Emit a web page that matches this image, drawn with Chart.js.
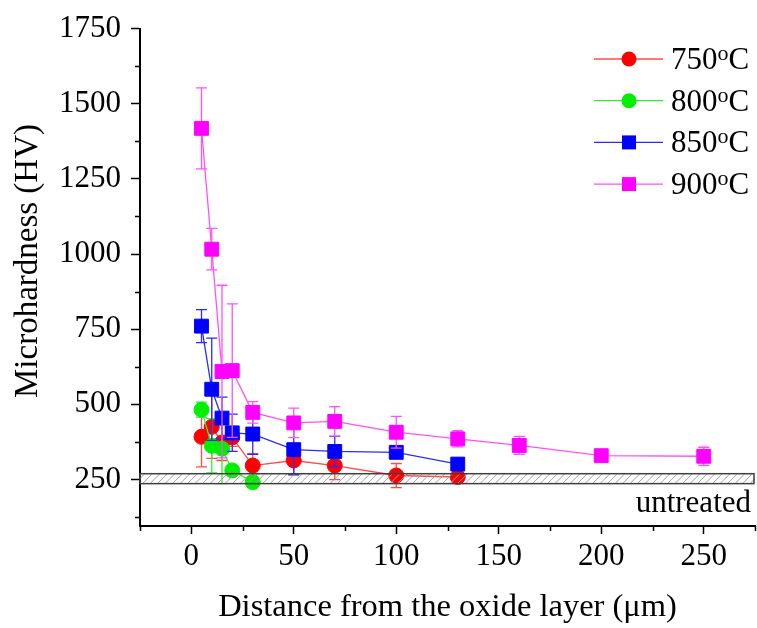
<!DOCTYPE html>
<html>
<head>
<meta charset="utf-8">
<script src="https://cdn.jsdelivr.net/npm/chart.js@4.4.0/dist/chart.umd.min.js"></script>
<style>
  html, body { margin: 0; padding: 0; background: #fff; }
  canvas { display: block; }
</style>
</head>
<body>
<canvas id="myChart" width="757" height="628"></canvas>
<script>
// temperatures (legend labels, shown as 750oC etc.)
var series = ["750", "800", "850", "900"];

// distance from the oxide layer (um) / microhardness (HV) / error (HV)
var x750 = [5, 10, 15, 20, 30, 50, 70, 100, 130];
var hv750 = [392, 425, 373, 390, 296, 313, 296, 263, 258];
var err750 = [100, 105, 60, 30, 40, 47, 47, 40, 15];

var x800 = [5, 10, 15, 20, 30];
var hv800 = [482, 362, 352, 280, 241];
var err800 = [25, 90, 116, 15, 15];

var x850 = [5, 10, 15, 20, 30, 50, 70, 100, 130];
var hv850 = [760, 550, 454, 405, 401, 349, 343, 340, 301];
var err850 = [55, 170, 70, 62, 68, 84, 50, 20, 20];

var x900 = [5, 10, 15, 20, 30, 50, 70, 100, 130, 160, 200, 250];
var hv900 = [1418, 1016, 609, 612, 473, 438, 443, 407, 385, 363, 329, 327];
var err900 = [135, 69, 287, 222, 36, 49, 49, 53, 27, 30, 0, 30];

// untreated hardness band (HV)
var untreatedRange = [236, 269];

// tick labels
var xTicks = [0, 50, 100, 150, 200, 250];
var xMinor = [-25, 25, 75, 125, 175, 225, 275];
var yTicks = [250, 500, 750, 1000, 1250, 1500, 1750];
var yMinor = [125, 375, 625, 875, 1125, 1375, 1625];

var markerColors = ["#ff0000", "#00f000", "#0000ff", "#ff00ff"];
var lineColors = ["#ff4a4a", "#30f030", "#2a2aff", "#ff50ff"];
var pointStyles = ["circle", "circle", "rect", "rect"];
var pointSizes = [7.5, 7.5, 9.8, 9.8];

var serif = "'Liberation Serif', 'Times New Roman', serif";

function makeSet(i, xs, ys, errs) {
  return {
    label: series[i],
    data: xs.map(function(x, j) { return { x: x, y: ys[j] }; }),
    errors: errs,
    borderColor: lineColors[i],
    borderWidth: 1.3,
    backgroundColor: markerColors[i],
    pointBackgroundColor: markerColors[i],
    pointBorderColor: markerColors[i],
    pointBorderWidth: 1,
    pointStyle: pointStyles[i],
    pointRadius: pointSizes[i],
    tension: 0,
    fill: false,
    order: 3 - i
  };
}

// error bars, drawn under each dataset's own markers
var errorBars = {
  id: "errorBars",
  beforeDatasetDraw: function(chart, args) {
    var ds = chart.data.datasets[args.index];
    var ctx = chart.ctx, xs = chart.scales.x, ys = chart.scales.y;
    ctx.save();
    ctx.strokeStyle = lineColors[args.index];
    ctx.lineWidth = 1.3;
    ctx.beginPath();
    ds.data.forEach(function(p, j) {
      var e = ds.errors[j];
      if (!e) return;
      var px = xs.getPixelForValue(p.x);
      var top = ys.getPixelForValue(p.y + e);
      var bot = ys.getPixelForValue(p.y - e);
      ctx.moveTo(px, top); ctx.lineTo(px, bot);
      ctx.moveTo(px - 5.5, top); ctx.lineTo(px + 5.5, top);
      ctx.moveTo(px - 5.5, bot); ctx.lineTo(px + 5.5, bot);
    });
    ctx.stroke();
    ctx.restore();
  }
};

// hatched "untreated" band, drawn over the data like in the original
var untreatedBand = {
  id: "untreatedBand",
  afterDatasetsDraw: function(chart) {
    var ctx = chart.ctx, area = chart.chartArea, ys = chart.scales.y;
    var top = ys.getPixelForValue(untreatedRange[1]);
    var bot = ys.getPixelForValue(untreatedRange[0]);
    var h = bot - top;
    ctx.save();
    ctx.beginPath();
    ctx.rect(area.left, top, area.right - area.left, h);
    ctx.clip();
    ctx.strokeStyle = "#a0a0a0";
    ctx.lineWidth = 1;
    ctx.beginPath();
    for (var x = area.left - 20; x < area.right + 20; x += 7.5) {
      ctx.moveTo(x, bot);
      ctx.lineTo(x + h, top);
    }
    ctx.stroke();
    ctx.restore();

    ctx.save();
    ctx.strokeStyle = "#404040";
    ctx.lineWidth = 1.5;
    ctx.strokeRect(area.left, top, area.right - area.left - 1, h);
    ctx.fillStyle = "#000";
    ctx.font = "31px " + serif;
    ctx.textAlign = "right";
    ctx.textBaseline = "alphabetic";
    ctx.fillText("untreated", area.right - 4, bot + 28);
    ctx.restore();
  }
};

// minor ticks, y title and the legend
var extras = {
  id: "extras",
  afterDraw: function(chart) {
    var ctx = chart.ctx, area = chart.chartArea;
    var xs = chart.scales.x, ys = chart.scales.y;
    ctx.save();
    ctx.strokeStyle = "#000";
    ctx.lineWidth = 1.5;
    ctx.beginPath();
    xMinor.forEach(function(v) {
      var px = Math.round(xs.getPixelForValue(v)) + 0.5;
      ctx.moveTo(px, area.bottom); ctx.lineTo(px, area.bottom + 5);
    });
    yMinor.forEach(function(v) {
      var py = Math.round(ys.getPixelForValue(v)) + 0.5;
      ctx.moveTo(area.left, py); ctx.lineTo(area.left - 5, py);
    });
    ctx.stroke();

    // y axis title (sits a little above the axis centre in the original)
    ctx.save();
    ctx.translate(28, 261);
    ctx.rotate(-Math.PI / 2);
    ctx.fillStyle = "#000";
    ctx.font = "33px " + serif;
    ctx.textAlign = "center";
    ctx.textBaseline = "middle";
    ctx.fillText("Microhardness (HV)", 0, 0);
    ctx.restore();

    // legend
    chart.data.datasets.forEach(function(ds, i) {
      var cy = 59 + i * 41.7;
      ctx.strokeStyle = lineColors[i];
      ctx.lineWidth = 1.3;
      ctx.beginPath();
      ctx.moveTo(594, cy); ctx.lineTo(663, cy);
      ctx.stroke();
      ctx.fillStyle = markerColors[i];
      ctx.beginPath();
      if (pointStyles[i] === "circle") {
        ctx.arc(629, cy, 7.5, 0, Math.PI * 2);
      } else {
        ctx.rect(622, cy - 7, 14, 14);
      }
      ctx.fill();

      ctx.fillStyle = "#000";
      ctx.textAlign = "left";
      ctx.textBaseline = "alphabetic";
      ctx.font = "31px " + serif;
      var x = 671;
      ctx.fillText(ds.label, x, cy + 10);
      x += ctx.measureText(ds.label).width;
      ctx.font = "22px " + serif;
      ctx.fillText("o", x, cy + 1);
      x += ctx.measureText("o").width;
      ctx.font = "31px " + serif;
      ctx.fillText("C", x, cy + 10);
    });
    ctx.restore();
  }
};

var ctx = document.getElementById("myChart").getContext("2d");
new Chart(ctx, {
  type: "line",
  data: {
    datasets: [
      makeSet(0, x750, hv750, err750),
      makeSet(1, x800, hv800, err800),
      makeSet(2, x850, hv850, err850),
      makeSet(3, x900, hv900, err900)
    ]
  },
  options: {
    responsive: false,
    animation: false,
    devicePixelRatio: 1,
    layout: { autoPadding: false, padding: { left: 0, right: 2, top: 26, bottom: 0 } },
    plugins: {
      legend: { display: false },
      tooltip: { enabled: false }
    },
    scales: {
      x: {
        type: "linear",
        min: -25,
        max: 275,
        afterBuildTicks: function(axis) {
          axis.ticks = xTicks.map(function(v) { return { value: v }; });
        },
        afterFit: function(axis) { axis.height = 102; },
        grid: { drawOnChartArea: false, tickLength: 8, tickColor: "#000", tickWidth: 1.5 },
        border: { color: "#000", width: 2 },
        ticks: { color: "#000", font: { family: serif, size: 31 }, padding: 4, maxRotation: 0 },
        title: {
          display: true,
          text: "Distance from the oxide layer (\u03bcm)",
          color: "#000",
          font: { family: serif, size: 32.5 },
          padding: { top: 0, bottom: 1 }
        }
      },
      y: {
        min: 95,
        max: 1750,
        afterBuildTicks: function(axis) {
          axis.ticks = yTicks.map(function(v) { return { value: v }; });
        },
        afterFit: function(axis) { axis.width = 140; },
        grid: { drawOnChartArea: false, tickLength: 9, tickColor: "#000", tickWidth: 1.5 },
        border: { color: "#000", width: 2 },
        ticks: {
          color: "#000",
          font: { family: serif, size: 31 },
          padding: 10,
          callback: function(v) { return String(v); }
        },
        title: { display: false }
      }
    }
  },
  plugins: [errorBars, untreatedBand, extras]
});
</script>
</body>
</html>
